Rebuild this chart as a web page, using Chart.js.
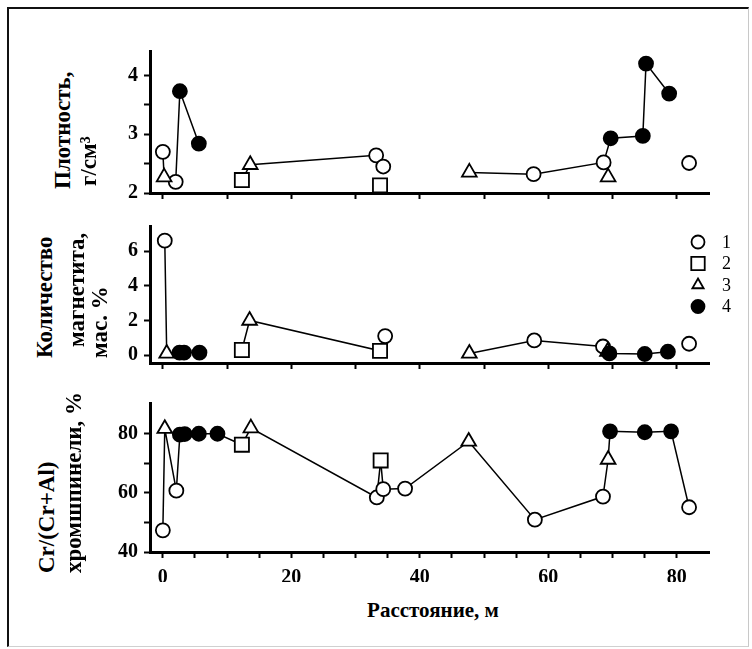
<!DOCTYPE html>
<html lang="ru">
<head>
<meta charset="utf-8">
<title>Плотность, магнетит и Cr/(Cr+Al) по профилю</title>
<script src="https://cdn.jsdelivr.net/npm/chart.js@4.4.1/dist/chart.umd.min.js"></script>
<style>
  html, body { margin: 0; padding: 0; background: #fff; }
  #lamina { position: relative; width: 752px; height: 649px; overflow: hidden;
    font-family: "Liberation Serif", "DejaVu Serif", serif; color: #000; }
  #marco { position: absolute; left: 7px; top: 7px; width: 739px; height: 637px;
    border-left: 2px solid #111; border-top: 2px solid #111;
    border-right: 1px solid #c8c8c8; border-bottom: 1px solid #d0d0d0; }
  .panel { position: absolute; left: 100px; width: 640px; }
  .rotulo { position: absolute; white-space: nowrap; transform: rotate(-90deg);
    transform-origin: 0 0; font-weight: bold; font-size: 23px; line-height: 24px; }
  #tituloX { position: absolute; left: 323px; width: 220px; top: 598px; text-align: center;
    font-weight: bold; font-size: 21px; line-height: 24px; }
</style>
</head>
<body>
<div id="lamina">
  <div id="marco"></div>
  <div class="panel" style="top:40px;height:170px"><canvas id="graficaDensidad"></canvas></div>
  <div class="panel" style="top:215px;height:165px"><canvas id="graficaMagnetita"></canvas></div>
  <div class="panel" style="top:392px;height:190px"><canvas id="graficaCromo"></canvas></div>
  <div id="tituloX">Расстояние, м</div>
</div>

<script>
// Номера групп образцов (легенда)
const seriesNames = ["1", "2", "3", "4"];

// Плотность, г/см3
const densDist  = [0, 0.2, 2.0, 2.65, 5.6, 12.3, 13.6, 33.2, 34.3, 33.8, 47.7, 57.7, 68.6, 69.7, 74.7, 75.2, 78.8, 69.3, 81.9];
const densValue = [2.70, 2.27, 2.19, 3.73, 2.84, 2.22, 2.48, 2.64, 2.45, 2.13, 2.35, 2.32, 2.52, 2.93, 2.97, 4.20, 3.69, 2.27, 2.51];
const densType  = [1, 3, 1, 4, 4, 2, 3, 1, 1, 2, 3, 1, 1, 4, 4, 4, 4, 3, 1];
const densTrace = [1, 1, 1, 1, 1, 2, 2, 2, 2, 0, 3, 3, 3, 3, 3, 3, 3, 0, 0];

// Количество магнетита, мас. %
const magnDist  = [0.3, 0.6, 2.6, 3.3, 5.7, 12.3, 13.5, 33.8, 34.6, 47.7, 57.8, 68.5, 69.5, 75.0, 78.6, 69.2, 81.9];
const magnValue = [6.6, 0.1, 0.15, 0.15, 0.15, 0.3, 2.0, 0.25, 1.1, 0.1, 0.85, 0.5, 0.1, 0.07, 0.2, 0.2, 0.66];
const magnType  = [1, 3, 4, 4, 4, 2, 3, 2, 1, 3, 1, 1, 4, 4, 4, 3, 1];
const magnTrace = [1, 1, 1, 1, 1, 2, 2, 2, 2, 3, 3, 3, 3, 3, 3, 0, 0];

// Cr/(Cr+Al) хромшпинели, %
const crDist  = [0, 0.3, 2.1, 2.65, 3.4, 5.6, 8.5, 12.3, 13.7, 33.3, 33.9, 34.3, 37.7, 47.6, 57.9, 68.5, 69.3, 69.6, 75.0, 79.1, 81.9];
const crValue = [47.3, 81.6, 60.7, 79.6, 79.8, 79.9, 79.9, 76.2, 81.8, 58.4, 70.9, 61.2, 61.4, 77.3, 50.9, 58.7, 71.2, 80.7, 80.4, 80.7, 55.1];
const crType  = [1, 3, 1, 4, 4, 4, 4, 2, 3, 1, 2, 1, 1, 3, 1, 1, 3, 4, 4, 4, 1];
const crTrace = [1, 1, 1, 1, 1, 1, 1, 1, 1, 1, 1, 1, 1, 1, 1, 1, 1, 1, 1, 1, 1];

// Деления осей
const distTicksLong  = [0, 5, 10, 15, 20, 25, 30, 35, 40, 45, 50, 55, 60, 65, 70, 75, 80];
const distTicksShort = [0, 10, 20, 30, 40, 50, 60, 70, 80];
const distLabels = [0, 20, 40, 60, 80];
const densTicks  = [2, 2.5, 3, 3.5, 4];
const densLabels = [2, 3, 4];
const magnTicks  = [0, 2, 4, 6];
const magnLabels = [0, 2, 4, 6];
const crTicks  = [40, 50, 60, 70, 80];
const crLabels = [40, 60, 80];

// вид значков для групп 1–4
const markerStyle = {
  1: { pointStyle: "circle",   radius: 7,   fill: "#fff" },
  2: { pointStyle: "rect",     radius: 10,  fill: "#fff" },
  3: { pointStyle: "triangle", radius: 8.5, fill: "#fff" },
  4: { pointStyle: "circle",   radius: 7,   fill: "#000" }
};

const familia = '"Liberation Serif", "Times New Roman", serif';
Chart.defaults.font.family = familia;
Chart.defaults.color = "#000";

function marcadores(dist, valor, tipo, t) {
  const m = markerStyle[t];
  return {
    data: dist.map((d, i) => ({ x: d, y: valor[i] })).filter((p, i) => tipo[i] === t),
    showLine: false,
    pointStyle: m.pointStyle,
    pointRadius: m.radius,
    pointHoverRadius: m.radius,
    pointBackgroundColor: m.fill,
    pointBorderColor: "#000",
    pointBorderWidth: 1.8,
    clip: false
  };
}

function trazado(dist, valor, traza) {
  const puntos = [];
  let anterior = null;
  dist.forEach((d, i) => {
    if (traza[i] === 0) return;
    if (anterior !== null && anterior !== traza[i]) puntos.push({ x: d, y: null });
    puntos.push({ x: d, y: valor[i] });
    anterior = traza[i];
  });
  return {
    data: puntos,
    showLine: true,
    spanGaps: false,
    borderColor: "#000",
    borderWidth: 1.5,
    pointRadius: 0,
    clip: false
  };
}

function fijarTicks(valores) {
  return axis => { axis.ticks = valores.map(v => ({ value: v })); };
}

function crearPanel(id, datos, ejeY, ejeX, extras) {
  const datasets = [4, 2, 3, 1].map(t => marcadores(datos.dist, datos.valor, datos.tipo, t));
  datasets.push(trazado(datos.dist, datos.valor, datos.traza));

  return new Chart(document.getElementById(id), {
    type: "scatter",
    data: { datasets },
    options: {
      responsive: true,
      maintainAspectRatio: false,
      animation: false,
      events: [],
      layout: { padding: { top: 10, right: 31, left: 0, bottom: 0 } },
      plugins: { legend: { display: false }, tooltip: { enabled: false } },
      scales: {
        x: {
          type: "linear",
          min: -2,
          max: 85,
          border: { display: true, color: "#000", width: 3 },
          grid: { drawOnChartArea: false, drawTicks: true, tickLength: 6, tickWidth: 2, color: "#000" },
          ticks: {
            autoSkip: false,
            maxRotation: 0,
            padding: 8,
            font: { family: familia, size: 20, weight: "bold" },
            callback: v => (ejeX.conEtiquetas && distLabels.includes(v)) ? v : ""
          },
          afterBuildTicks: fijarTicks(ejeX.ticks),
          afterFit: axis => { axis.height = ejeX.alto; axis.paddingLeft = 0; axis.paddingRight = 0; }
        },
        y: {
          type: "linear",
          min: ejeY.min,
          max: ejeY.max,
          border: { display: true, color: "#000", width: 3 },
          grid: { drawOnChartArea: false, drawTicks: true, tickLength: 6, tickWidth: 2, color: "#000" },
          ticks: {
            autoSkip: false,
            padding: 6,
            font: { family: familia, size: 20, weight: "bold" },
            callback: v => ejeY.etiquetas.includes(v) ? v : ""
          },
          afterBuildTicks: fijarTicks(ejeY.ticks),
          afterFit: axis => { axis.width = 50; axis.paddingTop = 0; axis.paddingBottom = 0; }
        }
      }
    },
    plugins: extras || []
  });
}

// легенда в правом верхнем углу среднего графика
const leyenda = {
  id: "leyenda",
  afterDraw(chart) {
    const ctx = chart.ctx;
    seriesNames.forEach((nombre, i) => {
      const m = markerStyle[i + 1];
      const y = 27 + i * 21.5;
      ctx.save();
      ctx.fillStyle = m.fill;
      ctx.strokeStyle = "#000";
      ctx.lineWidth = 1.8;
      Chart.helpers.drawPoint(ctx, {
        pointStyle: m.pointStyle,
        radius: m.pointStyle === "rect" ? 9.5 : 6.5,
        rotation: 0,
        borderWidth: 1.8
      }, 598, y);
      ctx.fillStyle = "#000";
      ctx.font = "18px " + familia;
      ctx.textBaseline = "middle";
      ctx.fillText(nombre, 622, y + 1);
      ctx.restore();
    });
  }
};

crearPanel("graficaDensidad",
  { dist: densDist, valor: densValue, tipo: densType, traza: densTrace },
  { min: 2, max: 4.4, ticks: densTicks, etiquetas: densLabels },
  { ticks: distTicksShort, alto: 17, conEtiquetas: false });

crearPanel("graficaMagnetita",
  { dist: magnDist, valor: magnValue, tipo: magnType, traza: magnTrace },
  { min: -0.45, max: 7.4, ticks: magnTicks, etiquetas: magnLabels },
  { ticks: distTicksShort, alto: 17, conEtiquetas: false },
  [leyenda]);

crearPanel("graficaCromo",
  { dist: crDist, valor: crValue, tipo: crType, traza: crTrace },
  { min: 40, max: 90, ticks: crTicks, etiquetas: crLabels },
  { ticks: distTicksLong, alto: 30, conEtiquetas: true });

// подписи осей Y, повернутые на 90°
function rotulo(texto, cx, yInicio) {
  const div = document.createElement("div");
  div.className = "rotulo";
  div.textContent = texto;
  div.style.left = (cx - 12) + "px";
  div.style.top = yInicio + "px";
  document.getElementById("lamina").appendChild(div);
}

rotulo("Плотность,", 63, 189);
rotulo("г/см³", 89, 186);
rotulo("Количество", 45, 358);
rotulo("магнетита,", 77, 347);
rotulo("мас. %", 100, 358);
rotulo("Cr/(Cr+Al)", 47, 573);
rotulo("хромшпинели, %", 74, 573);
</script>
</body>
</html>
